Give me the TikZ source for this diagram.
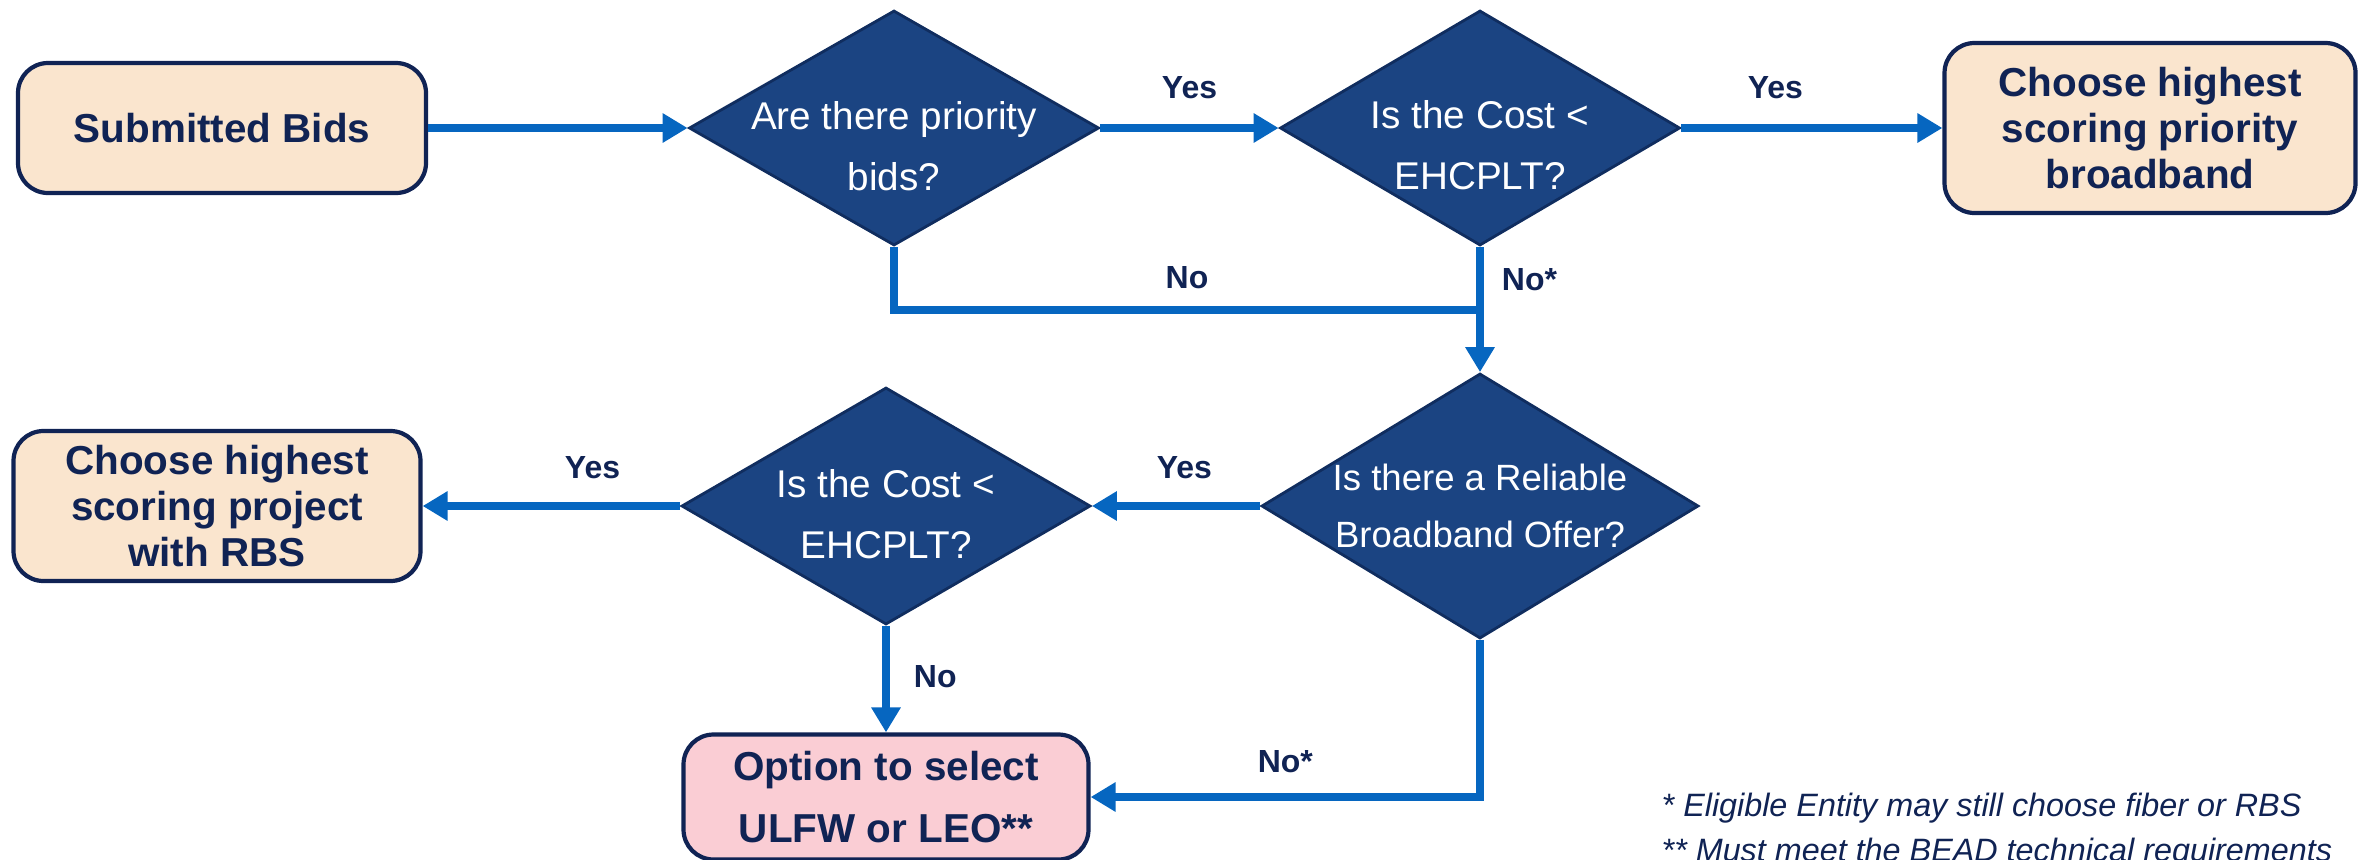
\documentclass[tikz,border=0pt]{standalone}
\usepackage{fontspec}
\setmainfont{Liberation Sans}
\usepackage{xcolor}
\usepackage{tikz}
\usetikzlibrary{arrows.meta,shapes,positioning,calc}
\definecolor{navy}{RGB}{16,35,84}
\definecolor{peach}{RGB}{250,229,206}
\definecolor{rose}{RGB}{250,205,212}
\definecolor{decblue}{RGB}{27,68,130}
\definecolor{decline}{RGB}{16,45,95}
\definecolor{flowblue}{RGB}{6,102,192}
\tikzset{%
      outbox/.style = { draw=navy, line width=1.2pt, rounded corners=3mm, fill=peach, text=navy, align=center,
                        font=\fontsize{11.5}{13.1}\selectfont\bfseries, minimum width=40.8mm },
    decision/.style = { diamond, draw=decline, line width=0.8pt, fill=decblue, inner sep=0pt },
       dtext/.style = { text=white, align=center, font=\fontsize{11}{17.5}\selectfont },
        flow/.style = { draw=flowblue, line width=2.4pt, -{Triangle[length=2.5mm,width=2.8mm]} },
        link/.style = { draw=flowblue, line width=2.4pt },
      answer/.style = { text=navy, font=\fontsize{9.1}{11}\selectfont\bfseries },
        note/.style = { text=navy, font=\fontsize{9.2}{12.8}\selectfont\itshape, align=left, inner sep=0pt }
}
\begin{document}
\begin{tikzpicture}[x=0.1mm,y=-0.1mm]
  \useasboundingbox (0,0) rectangle (2362,859);

  \node[outbox, minimum height=13mm] (bids) at (222,128) {Submitted Bids};
  \node[decision, minimum width=41mm, minimum height=23.5mm,
        label={[dtext,yshift=-1.8mm]center:Are there priority\\bids?}] (prio) at (894,128) {};
  \node[decision, minimum width=40mm, minimum height=23.5mm,
        label={[dtext,yshift=-1.7mm]center:Is the Cost <\\EHCPLT?}] (cost1) at (1480,128) {};
  \node[outbox, minimum width=41.1mm, minimum height=17mm] (best1) at (2150,128) {Choose highest\\scoring priority\\broadband};

  \node[decision, minimum width=43.7mm, minimum height=26.5mm,
        label={[dtext,font=\fontsize{10.4}{16}\selectfont]center:Is there a Reliable\\Broadband Offer?}] (rbo) at (1480,506) {};
  \node[decision, minimum width=40.9mm, minimum height=23.7mm,
        label={[dtext,yshift=-0.8mm]center:Is the Cost <\\EHCPLT?}] (cost2) at (886,506) {};
  \node[outbox, minimum width=40.7mm, minimum height=15mm] (best2) at (217,506) {Choose highest\\scoring project\\with RBS};
  \node[outbox, fill=rose, minimum width=40.5mm, minimum height=12.5mm,
        font=\fontsize{11.5}{17.4}\selectfont\bfseries] (leo) at (886,797) {Option to select\\ULFW or LEO**};

  \node[note, anchor=north west] (fn) at (1661,792) {* Eligible Entity may still choose fiber or RBS\\{}** Must meet the BEAD technical requirements};

  \coordinate (join) at (cost1.south |- 0,310);

  \draw[flow] (bids) -- (prio);
  \draw[flow] (prio) -- node[answer, yshift=4mm] {Yes} (cost1);
  \draw[flow] (cost1) -- node[answer, pos=0.36, yshift=4mm] {Yes} (best1);
  \draw[link] (prio.south) |- node[answer, pos=0.75, yshift=3.2mm] {No} (join);
  \draw[flow] (cost1.south) -- node[answer, pos=0.26, right=0.6mm] {No*} (rbo.north);
  \draw[flow] (rbo) -- node[answer, pos=0.45, yshift=3.8mm] {Yes} (cost2);
  \draw[flow] (cost2) -- node[answer, pos=0.34, yshift=3.8mm] {Yes} (best2);
  \draw[flow] (cost2.south) -- node[answer, pos=0.48, right=1.2mm] {No} (leo.north);
  \draw[flow] (rbo.south) |- node[answer, pos=0.75, yshift=3.5mm] {No*} (leo.east);
\end{tikzpicture}
\end{document}
